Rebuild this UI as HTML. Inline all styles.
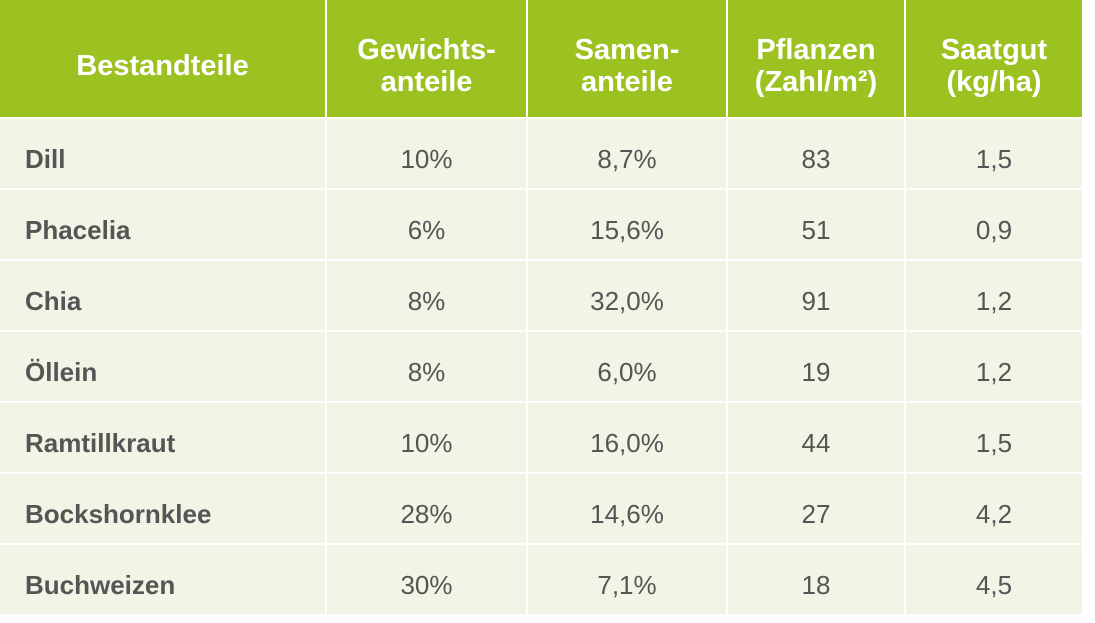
<!DOCTYPE html><html><head><style>
body{margin:0;width:1095px;height:623px;background:#fff;position:relative;overflow:hidden;font-family:"Liberation Sans",sans-serif}
.c{position:absolute;display:flex;align-items:center;justify-content:center;text-align:center;box-sizing:border-box}
.h{background:#9cc222;color:#fff;font-weight:bold;font-size:29px;line-height:32px;padding-top:14px}
.b{background:#f1f5e5;color:#555;font-size:26px;padding-top:11px}
.l{justify-content:flex-start;padding-left:25px;font-weight:bold;font-size:26px}
</style></head><body>
<script>
const xs=[[0,325],[327,526],[528,726],[728,904],[906,1082]];
const hd=["Bestandteile","Gewichts-<br>anteile","Samen-<br>anteile","Pflanzen<br>(Zahl/m²)","Saatgut<br>(kg/ha)"];
const rows=[["Dill","10%","8,7%","83","1,5"],["Phacelia","6%","15,6%","51","0,9"],["Chia","8%","32,0%","91","1,2"],["Öllein","8%","6,0%","19","1,2"],["Ramtillkraut","10%","16,0%","44","1,5"],["Bockshornklee","28%","14,6%","27","4,2"],["Buchweizen","30%","7,1%","18","4,5"]];
let h="";
xs.forEach((x,i)=>{h+=`<div class="c h" style="left:${x[0]}px;width:${x[1]-x[0]}px;top:0;height:117px">${hd[i]}</div>`;});
rows.forEach((r,j)=>{const t=119+j*71;r.forEach((v,i)=>{const x=xs[i];h+=`<div class="c b${i==0?' l':''}" style="left:${x[0]}px;width:${x[1]-x[0]}px;top:${t}px;height:69px">${v}</div>`;});});
document.write(h);
</script>
</body></html>
